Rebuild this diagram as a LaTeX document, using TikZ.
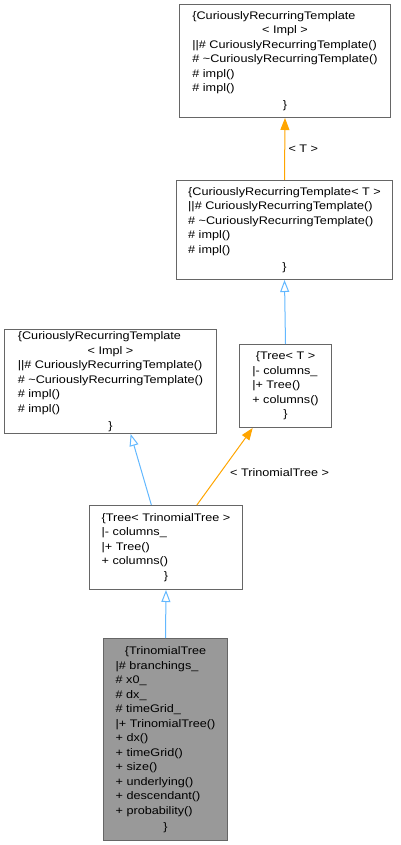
\documentclass[tikz,border=0pt]{standalone}
\usepackage{fontspec}
\setmainfont{Liberation Sans}[FakeStretch=1.15]
\usepackage{tikz}
\usetikzlibrary{arrows.meta}
\definecolor{clsborder}{HTML}{666666}
\definecolor{clsfill}{HTML}{999999}
\definecolor{inheritblue}{HTML}{63B8FF}
\definecolor{templorange}{HTML}{FFA500}
\newcommand{\ctrline}[1]{\multicolumn{1}{@{}c@{}}{#1}}
\tikzset{
  cls/.style={draw=clsborder, fill=white, line width=1pt, inner sep=0pt,
    anchor=north west, font=\fontsize{11}{14.5}\selectfont},
  current/.style={cls, fill=clsfill},
  inherit/.style={draw=inheritblue, line width=1pt,
    -{Triangle[open, length=12pt, width=9pt]}},
  templ/.style={draw=templorange, line width=1pt,
    -{Triangle[length=12pt, width=9pt]}},
  lbl/.style={font=\fontsize{11}{14.5}\selectfont, text=black}
}
\begin{document}
\begin{tikzpicture}[x=1pt,y=-1pt]
    \useasboundingbox (0,0) rectangle (400,845);
    % class boxes
    \node[cls, minimum width=211pt, minimum height=113pt] (crtimpl) at (179,4) {\begin{tabular}{@{}l@{}}
\{CuriouslyRecurringTemplate\\
\ctrline{< Impl >}\\
||\# CuriouslyRecurringTemplate()\\
\# \textasciitilde CuriouslyRecurringTemplate()\\
\# impl()\\
\# impl()\\[2.5pt]
\ctrline{\}}
\end{tabular}};
    \node[cls, minimum width=216pt, minimum height=99pt] (crtT) at (176,180) {\begin{tabular}{@{}l@{}}
\{CuriouslyRecurringTemplate< T >\\
||\# CuriouslyRecurringTemplate()\\
\# \textasciitilde CuriouslyRecurringTemplate()\\
\# impl()\\
\# impl()\\[2.5pt]
\ctrline{\}}
\end{tabular}};
    \node[cls, minimum width=212pt, minimum height=104pt] (crtimplb) at (4,329) {\begin{tabular}{@{}l@{}}
\{CuriouslyRecurringTemplate\\
\ctrline{< Impl >}\\
||\# CuriouslyRecurringTemplate()\\
\# \textasciitilde CuriouslyRecurringTemplate()\\
\# impl()\\
\# impl()\\[2.5pt]
\ctrline{\}}
\end{tabular}};
    \node[cls, minimum width=92pt, minimum height=83pt] (treeT) at (239,344) {\begin{tabular}{@{}l@{}}
\ctrline{\{Tree< T >}\\
|- columns\_\\
|+ Tree()\\
+ columns()\\
\ctrline{\}}
\end{tabular}};
    \node[cls, minimum width=153pt, minimum height=84pt] (treeTri) at (89,505) {\begin{tabular}{@{}l@{}}
\{Tree< TrinomialTree >\\
|- columns\_\\
|+ Tree()\\
+ columns()\\
\ctrline{\}}
\end{tabular}};
    \node[current, minimum width=124pt, minimum height=202pt] (trinomial) at (103,638) {\begin{tabular}{@{}l@{}}
\ctrline{\{TrinomialTree}\\
|\# branchings\_\\
\# x0\_\\
\# dx\_\\
\# timeGrid\_\\
|+ TrinomialTree()\\
+ dx()\\
+ timeGrid()\\
+ size()\\
+ underlying()\\
+ descendant()\\
+ probability()\\[1.5pt]
\ctrline{\}}
\end{tabular}};
    % relations
    \draw[templ] (crtT.north) -- node[lbl, right] {< T >} (crtimpl.south);
    \draw[inherit] (treeT.north) -- (crtT.south);
    \draw[inherit] (treeTri.109) -- (crtimplb.291);
    \draw[templ] (treeTri.54) -- node[lbl, right=6pt, pos=0.42] {< TrinomialTree >} (treeT.232);
    \draw[inherit] (trinomial.north) -- (treeTri.south);
\end{tikzpicture}
\end{document}
